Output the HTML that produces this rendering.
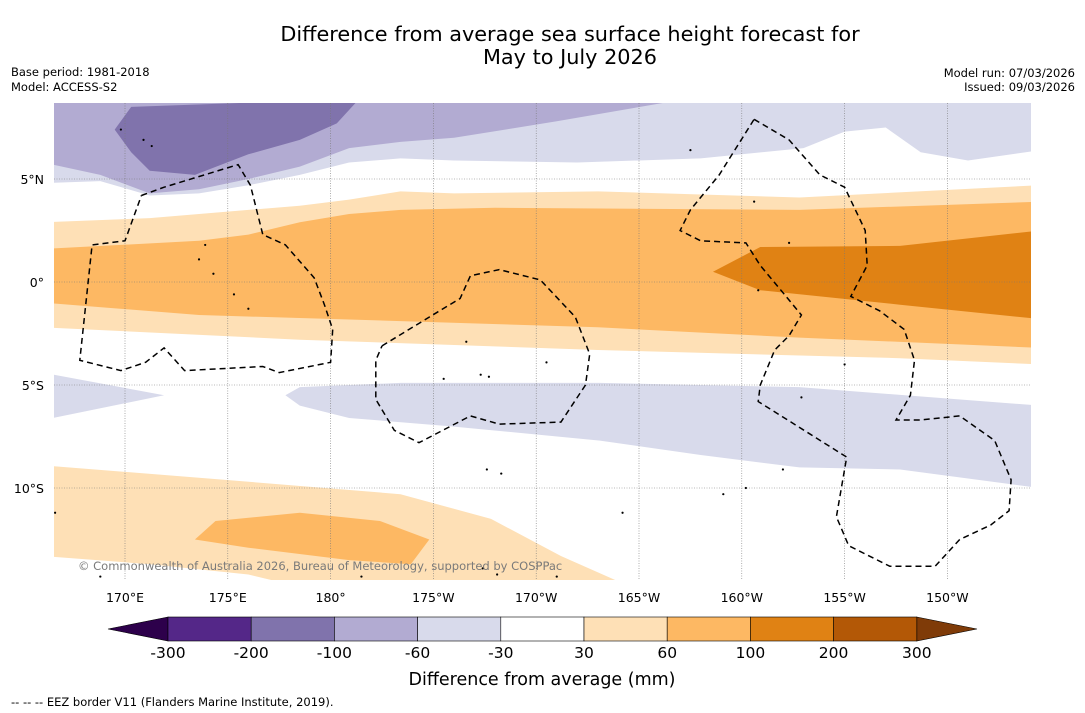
<!DOCTYPE html>
<html><head><meta charset="utf-8"><style>
body{margin:0;background:#fff;font-family:"DejaVu Sans","Liberation Sans",sans-serif;}
svg{display:block}
</style></head><body>
<svg id="chart" width="1085" height="713" xmlns="http://www.w3.org/2000/svg" font-family="DejaVu Sans, Liberation Sans, sans-serif">
<text x="570" y="41" font-size="20.8" text-anchor="middle">Difference from average sea surface height forecast for</text>
<text x="570" y="64" font-size="20.8" text-anchor="middle">May to July 2026</text>
<text x="11" y="76" font-size="11.5">Base period: 1981-2018</text>
<text x="11" y="91" font-size="11.5">Model: ACCESS-S2</text>
<text x="1075" y="77" font-size="11.5" text-anchor="end">Model run: 07/03/2026</text>
<text x="1075" y="91" font-size="11.5" text-anchor="end">Issued: 09/03/2026</text>
<defs><clipPath id="mapclip"><rect x="54" y="103" width="977" height="477"/></clipPath></defs>
<g id="map" clip-path="url(#mapclip)"><rect x="54" y="103" width="977" height="477" fill="#fff"/></g>
<g id="grid"></g>
<g id="eez" clip-path="url(#mapclip)"></g>
<g id="axes"></g>
<g id="cbar"></g>
<text x="78" y="570" font-size="11.5" fill="#7a7a7a">© Commonwealth of Australia 2026, Bureau of Meteorology, supported by COSPPac</text>
<text x="542" y="685" font-size="17.5" text-anchor="middle">Difference from average (mm)</text>
<text x="11" y="706" font-size="11.5">-- -- -- EEZ border V11 (Flanders Marine Institute, 2019).</text>
</svg>
<script>
const lonTicks=[170,175,180,185,190,195,200,205,210];
const lonLabels=["170°E","175°E","180°","175°W","170°W","165°W","160°W","155°W","150°W"];
const latTicks=[5,0,-5,-10];
const latLabels=["5°N","0°","5°S","10°S"];
const cbLevels=["-300","-200","-100","-60","-30","30","60","100","200","300"];
const cbColors=["#542788","#8073ac","#b2abd2","#d8daeb","#ffffff","#fee0b6","#fdb863","#e08214","#b35806"];
const lavTop=[[166,9],[166,4.8],[168.8,4.9],[171.2,4.2],[173.6,4.3],[176,4.7],[178.5,5.2],[180.9,5.8],[183.4,6.0],[186,5.9],[192,5.8],[198,6.0],[203,6.5],[205,7.3],[207,7.5],[208.7,6.3],[211,5.9],[214.5,6.4],[214.5,9]];
const purpTop=[[166,9],[166,5.8],[168.8,5.2],[171.2,4.3],[173.6,4.5],[176,5.0],[178.5,5.6],[180.9,6.5],[183.4,6.8],[186,7.0],[191,7.8],[196.8,8.8],[196.8,9]];
const darkPurp=[[169.5,7.4],[170.3,8.5],[181.4,8.9],[180.3,7.7],[178.5,6.9],[176,6.2],[173.4,5.2],[171.2,5.4],[170.3,6.3]];
const oLight=[[166,2.9],[171.2,3.1],[176,3.5],[178.5,3.7],[180.9,4.0],[183.4,4.4],[186,4.3],[193,4.4],[202.8,4.1],[214.5,4.7],[214.5,-4],[207.7,-3.7],[193,-3.3],[178.5,-2.8],[166,-2.2]];
const oMid=[[166,1.6],[173.6,2.0],[176,2.3],[178.5,2.9],[180.9,3.3],[183.4,3.5],[188,3.6],[202.8,3.5],[214.5,3.9],[214.5,-3.2],[202.8,-2.7],[193,-2.2],[183.4,-1.9],[173.6,-1.6],[166,-1.0]];
const oDark=[[198.6,0.5],[200.9,1.7],[207.7,1.75],[214.5,2.5],[214.5,-1.8],[207.7,-1.1],[200.9,-0.4]];
const lavLowL=[[166,-4.4],[171.9,-5.5],[166,-6.7]];
const lavLow=[[177.8,-5.5],[178.5,-5.1],[183.4,-4.9],[193.1,-4.9],[202.8,-5.1],[214.5,-6],[214.5,-10],[207.7,-9.1],[202.8,-9],[198,-8.4],[193.1,-7.7],[185.8,-7],[180.9,-6.6],[178.5,-6]];
const oLow=[[166,-8.9],[173.6,-9.5],[183.4,-10.3],[187.8,-11.5],[191.2,-13.3],[194.6,-14.8],[178.5,-14.8],[176,-14.2],[171.2,-13.7],[166,-13.3]];
const oBlob=[[173.4,-12.5],[174.4,-11.6],[178.5,-11.2],[182.4,-11.6],[184.8,-12.5],[183.9,-13.7],[180.9,-13.5],[176,-12.9]];
const eez1=[[170.8,4.2],[171.9,4.6],[175.5,5.7],[176.1,4.7],[176.7,2.3],[177.8,1.8],[179.2,0.2],[179.7,-1.1],[180.1,-2.3],[180,-3.9],[177.5,-4.4],[176.7,-4.1],[172.9,-4.3],[171.9,-3.2],[171,-3.9],[169.8,-4.3],[167.8,-3.8],[168.4,1.8],[170,2],[170.8,4.2]];
const eez2=[[182.5,-3.1],[185.3,-1.4],[186.3,-0.8],[186.8,0.3],[188.2,0.6],[190.2,0.1],[191.9,-1.7],[192.6,-3.5],[192.4,-5],[191.2,-6.8],[188.2,-6.9],[186.8,-6.5],[184.3,-7.8],[183.1,-7.2],[182.2,-5.7],[182.2,-3.8],[182.5,-3.1]];
const eez3=[[200.6,7.9],[202.3,6.9],[203.8,5.2],[205,4.6],[206,2.5],[206.1,0.8],[205.3,-0.7],[206.7,-1.4],[207.9,-2.3],[208.4,-3.8],[208.2,-5.5],[207.5,-6.7],[208.7,-6.7],[210.6,-6.5],[212.3,-7.7],[213.1,-9.6],[213,-11.1],[212.1,-11.8],[210.6,-12.5],[209.4,-13.8],[207.2,-13.8],[205.2,-12.8],[204.6,-11.4],[205.1,-8.5],[200.8,-5.8],[200.9,-5],[201.6,-3.3],[202.3,-2.6],[202.9,-1.6],[201.9,-0.4],[200.9,0.8],[200.2,1.9],[198,2],[197,2.5],[197.5,3.5],[198.9,5.2],[200.6,7.9]];
const islands=[[170.9,6.9],[171.3,6.6],[169.8,7.4],[173.9,1.8],[173.6,1.1],[174.3,0.4],[175.3,-0.6],[176,-1.3],[186.6,-2.9],[187.3,-4.5],[185.5,-4.7],[187.7,-4.6],[190.5,-3.9],[187.6,-9.1],[188.3,-9.3],[181.5,-14.3],[187.4,-13.9],[188.1,-14.2],[191,-14.3],[168.8,-14.3],[202,-9.1],[199.1,-10.3],[202.9,-5.6],[205,-4],[197.5,6.4],[200.6,3.9],[202.3,1.9],[200.8,-0.4],[200.2,-10],[194.2,-11.2],[166.6,-11.2]];
const NS='http://www.w3.org/2000/svg';
function X(lon){return 125+(lon-170)*20.56;}
function Y(lat){return 282-lat*20.6;}
function pts(a){return a.map(p=>X(p[0]).toFixed(1)+','+Y(p[1]).toFixed(1)).join(' ');}
const map=document.getElementById('map');
function poly(parent,a,fill,name){const e=document.createElementNS(NS,'polygon');e.setAttribute('points',pts(a));e.setAttribute('fill',fill);


parent.appendChild(e);}
poly(map,lavTop,cbColors[3],'anomaly-band-top-light-purple');
poly(map,purpTop,cbColors[2],'anomaly-band-top-medium-purple');
poly(map,darkPurp,cbColors[1],'anomaly-band-top-dark-purple');
poly(map,oLight,cbColors[5],'anomaly-band-equator-light-orange');
poly(map,oMid,cbColors[6],'anomaly-band-equator-orange');
poly(map,oDark,cbColors[7],'anomaly-band-equator-dark-orange');
poly(map,lavLowL,cbColors[3],'anomaly-band-south-west-purple');
poly(map,lavLow,cbColors[3],'anomaly-band-south-purple');
poly(map,oLow,cbColors[5],'anomaly-band-south-light-orange');
poly(map,oBlob,cbColors[6],'anomaly-band-south-orange');
islands.forEach(p=>{const c=document.createElementNS(NS,'circle');c.setAttribute('cx',X(p[0]));c.setAttribute('cy',Y(p[1]));c.setAttribute('r',1.1);c.setAttribute('fill','#000');


map.appendChild(c);});
const grid=document.getElementById('grid');
lonTicks.forEach(l=>{const e=document.createElementNS(NS,'line');e.setAttribute('x1',X(l));e.setAttribute('x2',X(l));e.setAttribute('y1',103);e.setAttribute('y2',580);e.setAttribute('stroke','#777');e.setAttribute('stroke-width','0.6');e.setAttribute('stroke-dasharray','1,1.5');


grid.appendChild(e);});
latTicks.forEach(l=>{const e=document.createElementNS(NS,'line');e.setAttribute('y1',Y(l));e.setAttribute('y2',Y(l));e.setAttribute('x1',54);e.setAttribute('x2',1031);e.setAttribute('stroke','#777');e.setAttribute('stroke-width','0.6');e.setAttribute('stroke-dasharray','1,1.5');


grid.appendChild(e);});
const eez=document.getElementById('eez');
[eez1,eez2,eez3].forEach(a=>{const e=document.createElementNS(NS,'polyline');e.setAttribute('points',pts(a));e.setAttribute('fill','none');e.setAttribute('stroke','#000');e.setAttribute('stroke-width','1.5');e.setAttribute('stroke-dasharray','6,4');


eez.appendChild(e);});
const axes=document.getElementById('axes');
lonTicks.forEach((l,i)=>{const t=document.createElementNS(NS,'text');t.setAttribute('x',X(l));t.setAttribute('y',602);t.setAttribute('font-size','12.5');t.setAttribute('text-anchor','middle');t.textContent=lonLabels[i];


axes.appendChild(t);});
latTicks.forEach((l,i)=>{const t=document.createElementNS(NS,'text');t.setAttribute('x',44);t.setAttribute('y',Y(l)+5);t.setAttribute('font-size','12.5');t.setAttribute('text-anchor','end');t.textContent=latLabels[i];


axes.appendChild(t);});
const cb=document.getElementById('cbar');
const cx0=168,cw=83.2,cy=617,ch=24;
const la=document.createElementNS(NS,'polygon');la.setAttribute('points',`${cx0},${cy} 108,${cy+ch/2} ${cx0},${cy+ch}`);la.setAttribute('fill','#2d004b');la.setAttribute('stroke','#000');la.setAttribute('stroke-width','0.6');


cb.appendChild(la);
const ra=document.createElementNS(NS,'polygon');ra.setAttribute('points',`${cx0+9*cw},${cy} 977,${cy+ch/2} ${cx0+9*cw},${cy+ch}`);ra.setAttribute('fill','#7f3b08');ra.setAttribute('stroke','#000');ra.setAttribute('stroke-width','0.6');


cb.appendChild(ra);
cbColors.forEach((c,i)=>{const r=document.createElementNS(NS,'rect');r.setAttribute('x',cx0+i*cw);r.setAttribute('y',cy);r.setAttribute('width',cw);r.setAttribute('height',ch);r.setAttribute('fill',c);r.setAttribute('stroke','#000');r.setAttribute('stroke-width','0.6');


cb.appendChild(r);});
cbLevels.forEach((s,i)=>{const t=document.createElementNS(NS,'text');t.setAttribute('x',cx0+i*cw);t.setAttribute('y',658);t.setAttribute('font-size','15.5');t.setAttribute('text-anchor','middle');t.textContent=s;


cb.appendChild(t);});
</script>
</body></html>
